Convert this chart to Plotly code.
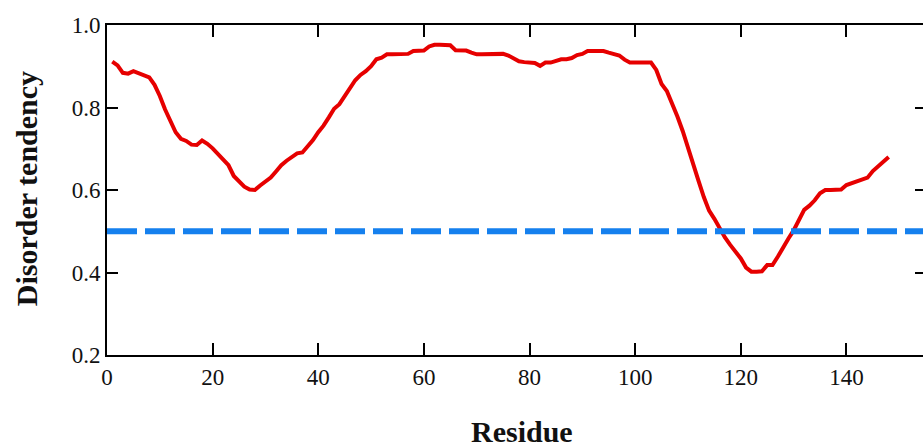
import plotly.graph_objects as go

# Per-residue disorder tendency profile (residues 1-148)
residues = list(range(1, 149))
tendency = [
    0.911, 0.902, 0.884, 0.882, 0.888, 0.883, 0.880, 0.873, 0.855, 0.828,
    0.795, 0.765, 0.740, 0.724, 0.719, 0.710, 0.709, 0.720, 0.712, 0.701,
    0.688, 0.674, 0.660, 0.634, 0.620, 0.608, 0.601, 0.600, 0.611, 0.621,
    0.630, 0.645, 0.660, 0.671, 0.681, 0.689, 0.691, 0.705, 0.721, 0.740,
    0.756, 0.776, 0.797, 0.808, 0.828, 0.849, 0.866, 0.879, 0.888, 0.900,
    0.917, 0.921, 0.929, 0.929, 0.929, 0.929, 0.930, 0.937, 0.937, 0.938,
    0.948, 0.952, 0.952, 0.952, 0.951, 0.939, 0.938, 0.938, 0.933, 0.929,
    0.929, 0.929, 0.929, 0.929, 0.930, 0.926, 0.918, 0.912, 0.910, 0.910,
    0.908, 0.901, 0.909, 0.909, 0.912, 0.917, 0.917, 0.920, 0.927, 0.930,
    0.937, 0.937, 0.937, 0.937, 0.933, 0.929, 0.926, 0.916, 0.909, 0.909,
    0.909, 0.909, 0.909, 0.891, 0.857, 0.840, 0.810, 0.778, 0.743, 0.705,
    0.662, 0.622, 0.583, 0.550, 0.530, 0.507, 0.485, 0.467, 0.452, 0.434,
    0.412, 0.402, 0.402, 0.403, 0.418, 0.418, 0.438, 0.462, 0.482, 0.502,
    0.527, 0.552, 0.562, 0.575, 0.592, 0.600, 0.600, 0.600, 0.601, 0.612,
    0.617, 0.620, 0.627, 0.630, 0.646, 0.658, 0.670, 0.680,
]

# Order/disorder cut-off
threshold = 0.5
x_range = [0, 154.5]
y_range = [0.2, 1.0]
x_ticks = [0, 20, 40, 60, 80, 100, 120, 140]
y_ticks = [0.2, 0.4, 0.6, 0.8, 1.0]
x_title = "Residue"
y_title = "Disorder tendency"

serif = "Liberation Serif"
ink = "#111"
title_font = dict(family=serif, size=30, color=ink, weight="bold")

fig = go.Figure()

# Threshold line sits on an overlaid right-hand axis that carries the right ticks
fig.add_trace(go.Scatter(
    x=[x_range[0], x_range[1]], y=[threshold, threshold],
    mode="lines", yaxis="y2",
    line=dict(color="#1580ee", width=6, dash="30px,8px"),
    hoverinfo="skip", showlegend=False,
))

fig.add_trace(go.Scatter(
    x=residues, y=tendency, mode="lines",
    line=dict(color="#e60000", width=4),
    showlegend=False,
))

fig.update_layout(
    width=923, height=448,
    margin=dict(l=107, r=0, t=25, b=93, autoexpand=False),
    paper_bgcolor="white", plot_bgcolor="white",
    font=dict(family=serif, color=ink),
    xaxis=dict(
        range=x_range, tickvals=x_ticks, automargin=False,
        showline=True, linecolor="black", linewidth=2, mirror="ticks",
        ticks="inside", ticklen=12, tickwidth=2, tickcolor="black",
        showgrid=False, zeroline=False,
        tickfont=dict(family=serif, size=23, color=ink),
    ),
    yaxis=dict(
        range=y_range, tickvals=y_ticks, tickformat=".1f", automargin=False,
        showline=True, linecolor="black", linewidth=2,
        ticks="inside", ticklen=11, tickwidth=2, tickcolor="black",
        showgrid=False, zeroline=False,
        tickfont=dict(family=serif, size=23, color=ink),
    ),
    yaxis2=dict(
        range=y_range, tickvals=y_ticks, overlaying="y", side="right",
        showline=False, showticklabels=False, automargin=False,
        ticks="inside", ticklen=8, tickwidth=2, tickcolor="black",
        showgrid=False, zeroline=False,
    ),
    annotations=[
        dict(text=x_title, xref="paper", yref="paper", x=0.508, y=-0.231,
             xanchor="center", yanchor="middle", showarrow=False, font=title_font),
        dict(text=y_title, xref="paper", yref="paper", x=-0.0985, y=0.5045,
             xanchor="center", yanchor="middle", textangle=-90,
             showarrow=False, font=title_font),
    ],
)

fig.write_html("out.html")
